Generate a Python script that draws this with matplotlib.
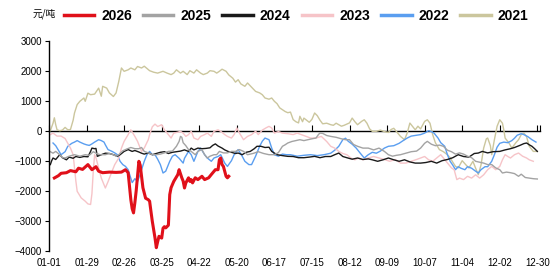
import matplotlib
matplotlib.use("Agg")
import matplotlib.pyplot as plt

# x = day of year (leap-year calendar, 01-01 = 0)
days_2026 = [4, 7, 9, 13, 16, 20, 22, 25, 29, 32, 35, 37, 40, 45, 50, 54, 57, 59, 61, 62,
             63, 64, 65, 67, 68, 70, 72, 74, 75, 76, 77, 79, 80, 81, 82, 84, 85, 86, 87, 89,
             90, 91, 93, 96, 97, 99, 100, 101, 102, 104, 105, 106, 107, 109, 111, 114, 116, 119, 121, 124,
             126, 127, 128, 129, 130, 132, 133, 134]
vals_2026 = [-1576, -1500, -1420, -1400, -1330, -1370, -1250, -1290, -1130, -1300,
             -1200, -1350, -1400, -1380, -1390, -1380, -1300, -1400, -2300, -2600,
             -2740, -2400, -2000, -1020, -1150, -1900, -2250, -2300, -2350, -2690,
             -3020, -3570, -3900, -3700, -3520, -3580, -3250, -3200, -3240, -3150,
             -2130, -1900, -1690, -1465, -1300, -1570, -1680, -1910, -1740, -1570,
             -1690, -1630, -1740, -1570, -1630, -1520, -1630, -1570, -1460, -1300,
             -1300, -966, -910, -1130, -1190, -1520, -1570, -1520]

days_2025 = [1, 3, 5, 8, 10, 12, 15, 19, 23, 27, 30, 33, 35, 38, 42, 45, 48, 50, 52, 55,
             58, 61, 64, 67, 69, 71, 74, 77, 80, 83, 86, 89, 92, 95, 97, 98, 99, 100, 102, 104,
             106, 109, 111, 114, 116, 118, 120, 123, 125, 127, 130, 133, 136, 139, 142, 145, 148, 152, 156, 160,
             164, 168, 171, 174, 176, 178, 181, 184, 187, 190, 193, 196, 199, 201, 202, 204, 207, 210, 214, 218,
             221, 224, 227, 230, 234, 238, 242, 246, 250, 253, 256, 259, 262, 266, 270, 274, 277, 280, 282, 285,
             288, 291, 294, 297, 300, 303, 306, 309, 312, 315, 318, 321, 324, 327, 330, 333, 336, 338, 341, 344,
             347, 350, 352, 355, 358, 361, 364]
vals_2025 = [-700, -750, -690, -800, -900, -910, -850, -800, -850, -800, -820, -700, -750, -800, -800, -760, -800, -850, -800, -670,
             -610, -560, -600, -600, -560, -690, -740, -800, -800, -780, -740, -690, -680, -520, -355, -190, -220, -400, -500, -630,
             -690, -800, -690, -630, -800, -910, -850, -800, -800, -690, -740, -740, -690, -690, -630, -690, -800, -760, -700, -760,
             -800, -800, -730, -520, -470, -410, -360, -330, -300, -330, -300, -270, -245, -120, -80, -90, -160, -190, -220, -270,
             -300, -300, -460, -520, -580, -580, -640, -580, -690, -800, -850, -820, -800, -750, -700, -680, -580, -420, -355, -450,
             -500, -480, -520, -650, -700, -780, -740, -780, -850, -900, -1020, -1050, -1080, -1130, -1130, -1240, -1300, -1410, -1380, -1400,
             -1430, -1520, -1450, -1560, -1580, -1600, -1610]

days_2024 = [1, 2, 3, 5, 8, 10, 13, 15, 18, 20, 23, 26, 29, 31, 32, 34, 35, 36, 39, 42,
             45, 48, 51, 53, 56, 59, 62, 64, 67, 69, 71, 74, 77, 80, 83, 86, 89, 92, 95, 98,
             101, 104, 106, 108, 111, 114, 117, 120, 122, 124, 126, 129, 131, 134, 136, 139, 141, 144, 147, 150,
             153, 155, 158, 161, 164, 166, 170, 174, 178, 182, 186, 190, 194, 198, 202, 206, 210, 213, 216, 219,
             222, 226, 230, 234, 238, 241, 245, 249, 253, 257, 261, 265, 269, 273, 277, 281, 285, 289, 293, 297,
             301, 305, 309, 313, 317, 320, 323, 327, 331, 336, 340, 344, 347, 351, 354, 356, 358, 360, 362, 364]
vals_2024 = [-1130, -1000, -910, -960, -800, -900, -970, -880, -920, -860, -890, -860, -870, -690, -580, -600, -590, -855, -800, -750,
             -760, -800, -850, -800, -690, -630, -690, -660, -710, -750, -780, -740, -800, -760, -720, -700, -760, -720, -700, -680,
             -640, -690, -580, -640, -580, -600, -590, -570, -490, -440, -510, -580, -640, -700, -720, -760, -745, -800, -720, -690,
             -600, -520, -520, -560, -550, -690, -800, -830, -855, -860, -900, -900, -880, -855, -900, -860, -860, -800, -745, -860,
             -900, -950, -910, -960, -940, -970, -1020, -970, -910, -970, -1020, -970, -1040, -1080, -1080, -1060, -1020, -1080, -1000, -960,
             -900, -800, -860, -880, -760, -745, -690, -740, -700, -690, -640, -600, -560, -490, -430, -410, -470, -520, -600, -690]

days_2023 = [1, 3, 6, 9, 12, 14, 16, 18, 19, 20, 21, 24, 27, 29, 31, 32, 33, 34, 35, 37,
             39, 42, 44, 47, 49, 52, 54, 56, 59, 61, 64, 66, 69, 71, 74, 75, 77, 79, 81, 84,
             86, 89, 91, 93, 96, 98, 100, 102, 104, 106, 108, 111, 113, 116, 118, 121, 123, 126, 128, 131,
             133, 136, 138, 140, 142, 145, 148, 151, 154, 156, 159, 162, 164, 166, 168, 171, 174, 178, 182, 185,
             188, 191, 195, 199, 203, 207, 210, 213, 216, 219, 222, 225, 228, 231, 234, 238, 242, 246, 250, 254,
             258, 262, 266, 270, 274, 277, 280, 283, 286, 289, 292, 294, 296, 298, 300, 302, 304, 306, 309, 312,
             315, 318, 321, 324, 327, 330, 333, 336, 338, 340, 342, 344, 347, 350, 353, 356, 358, 361]
vals_2023 = [-130, -80, -180, -180, -260, -420, -580, -800, -1240, -1670, -2020, -2240, -2350, -2440, -2460, -2100, -1350, -800, -900, -1240,
             -1580, -1910, -1700, -1350, -1130, -910, -580, -355, -130, 30, -190, -355, -690, -580, -300, -130, 130, 220, 140, 200,
             30, -130, -245, -80, -50, -20, -80, -190, -130, -20, -245, -300, -190, -130, -80, -190, -20, 30, -20, -130,
             -190, -245, -130, 90, -80, -300, -190, -130, -20, -130, 20, 100, 145, 90, -80, -30, -80, -100, -130, -80,
             -130, -180, -245, -245, -190, -360, -520, -580, -690, -760, -800, -910, -970, -910, -970, -910, -860, -910, -960, -1020,
             -960, -1080, -1080, -1020, -960, -910, -860, -970, -1020, -910, -800, -910, -1020, -1130, -1240, -1300, -1630, -1580, -1630, -1520,
             -1580, -1470, -1580, -1470, -1300, -1190, -1300, -1190, -970, -800, -860, -910, -800, -745, -850, -910, -970, -1020]

days_2022 = [3, 5, 7, 9, 12, 14, 17, 19, 21, 23, 26, 28, 30, 32, 34, 37, 39, 41, 42, 44,
             47, 49, 51, 53, 55, 57, 59, 61, 62, 64, 66, 68, 69, 71, 73, 75, 77, 79, 81, 83,
             85, 87, 90, 92, 94, 97, 100, 101, 104, 106, 108, 111, 113, 116, 118, 121, 123, 126, 128, 131,
             133, 136, 138, 141, 144, 146, 149, 151, 154, 157, 159, 161, 164, 166, 168, 171, 174, 177, 180, 185,
             190, 195, 200, 205, 210, 213, 216, 219, 221, 223, 226, 229, 232, 235, 238, 241, 244, 247, 250, 253,
             257, 261, 264, 267, 270, 274, 277, 280, 283, 285, 287, 290, 292, 295, 297, 299, 301, 303, 305, 307,
             310, 312, 315, 318, 320, 322, 325, 327, 330, 332, 334, 336, 339, 342, 345, 347, 349, 352, 354, 357,
             360, 363]
vals_2022 = [-410, -500, -650, -800, -700, -520, -420, -380, -330, -380, -440, -470, -490, -440, -380, -300, -330, -380, -470, -630,
             -690, -740, -800, -1020, -1130, -1190, -1300, -1580, -1730, -1600, -1690, -1450, -1300, -1020, -800, -690, -800, -800, -950, -1130,
             -1410, -1350, -1020, -850, -800, -920, -1080, -920, -690, -800, -1020, -690, -580, -800, -910, -1020, -910, -860, -800, -1080,
             -1190, -1000, -800, -630, -850, -1020, -1130, -1130, -850, -520, -350, -245, -300, -580, -800, -850, -780, -800, -800, -850,
             -820, -800, -830, -800, -750, -650, -520, -300, -250, -350, -450, -580, -750, -910, -800, -720, -750, -680, -580, -520,
             -500, -420, -330, -245, -180, -150, -130, -80, 0, -30, -80, -245, -400, -520, -800, -1020, -1150, -1300, -1200, -1250,
             -1300, -1200, -1250, -1350, -1410, -1300, -1200, -1200, -1020, -800, -550, -420, -380, -400, -330, -250, -150, -100, -130, -200,
             -300, -380]

days_2021 = [1, 3, 4, 5, 6, 8, 10, 12, 14, 16, 18, 19, 21, 23, 26, 27, 29, 31, 34, 37,
             39, 40, 43, 45, 48, 50, 52, 54, 56, 59, 61, 64, 66, 69, 71, 75, 78, 81, 85, 88,
             91, 93, 95, 98, 100, 103, 105, 108, 110, 113, 115, 118, 120, 123, 125, 127, 129, 132, 134, 137,
             139, 141, 143, 146, 148, 151, 154, 157, 159, 161, 164, 166, 168, 170, 172, 174, 176, 178, 180, 182,
             184, 186, 187, 189, 190, 192, 194, 196, 198, 200, 202, 204, 207, 210, 212, 214, 216, 218, 220, 222,
             224, 226, 228, 230, 233, 235, 237, 239, 241, 244, 247, 250, 253, 255, 257, 260, 262, 265, 267, 269,
             271, 273, 275, 277, 280, 282, 284, 286, 288, 291, 294, 297, 299, 301, 303, 305, 308, 311, 313, 316,
             318, 320, 322, 324, 326, 327, 329, 330, 332, 334, 336, 338, 339, 340, 343, 345, 348, 350, 352, 354,
             356, 358, 361, 364]
vals_2021 = [0, 250, 430, 200, 30, 0, 20, 110, 30, 40, 350, 590, 870, 980, 1090, 980, 1250, 1200, 1220, 1420,
             1150, 1480, 1420, 1260, 1140, 1260, 1640, 2090, 1980, 2030, 2090, 2030, 2140, 2090, 2150, 2000, 1950, 1920, 1980, 1920,
             1870, 1920, 2030, 1920, 1980, 1870, 2000, 1920, 2030, 1920, 1870, 1920, 2000, 1980, 1920, 1980, 2050, 1980, 1860, 1750,
             1620, 1700, 1560, 1480, 1590, 1450, 1310, 1260, 1200, 1090, 1050, 1090, 980, 900, 760, 700, 640, 600, 620, 370,
             300, 260, 480, 300, 420, 350, 280, 380, 590, 500, 350, 230, 250, 200, 180, 250, 200, 150, 180, 220,
             260, 420, 300, 200, 310, 365, 250, 60, -20, -20, 20, -30, -60, 40, 80, -80, -190, -300, -80, 255,
             140, 30, 150, 60, 310, 365, 250, -130, -400, -630, -700, -800, -900, -1050, -1190, -1240, -1000, -1150, -1240, -1020,
             -1250, -1465, -1150, -580, -270, -245, -500, -800, -300, 145, 365, 250, 30, -245, -420, -580, -400, -300, -130, -80,
             -200, -520, -690, -690]

series = [
    ("2026", days_2026, vals_2026, "#e0101a", 2.2),
    ("2025", days_2025, vals_2025, "#a3a3a3", 1.0),
    ("2024", days_2024, vals_2024, "#1a1a1a", 1.0),
    ("2023", days_2023, vals_2023, "#f6c4c8", 1.0),
    ("2022", days_2022, vals_2022, "#5a9ef0", 1.0),
    ("2021", days_2021, vals_2021, "#cbc69d", 1.0),
]

tick_days = [0, 28, 56, 84, 112, 140, 168, 196, 224, 252, 280, 308, 336, 364]
tick_labels = ["01-01", "01-29", "02-26", "03-25", "04-22", "05-20", "06-17",
               "07-15", "08-12", "09-09", "10-07", "11-04", "12-02", "12-30"]
y_ticks = [-4000, -3000, -2000, -1000, 0, 1000, 2000, 3000]

plt.rcParams["font.family"] = ["Liberation Sans", "DejaVu Sans"]

fig = plt.figure(figsize=(5.5, 2.72), dpi=100)
ax = fig.add_axes([49 / 550, 1 - 250.7 / 272, 491 / 550, 210 / 272])

# draw back-to-front so the 2026 line sits on top
for name, d, v, c, lw in reversed(series):
    ax.plot(d, v, color=c, lw=lw, label=name, zorder=3 if name == "2026" else 2)

ax.set_xlim(0, 366)
ax.set_ylim(-4000, 3000)
ax.set_yticks(y_ticks)
ax.tick_params(axis="y", direction="out", length=3, width=0.8, labelsize=7, pad=2)

for s in ["top", "right"]:
    ax.spines[s].set_visible(False)
ax.spines["left"].set_linewidth(1.0)
ax.spines["bottom"].set_position(("data", 0))
ax.spines["bottom"].set_linewidth(1.0)
ax.spines["bottom"].set_zorder(1)
ax.set_xticks(tick_days + [366])
ax.tick_params(axis="x", direction="in", length=4, width=0.8, labelbottom=False)

sec = ax.secondary_xaxis("bottom")
sec.set_xticks(tick_days, tick_labels)
sec.spines["bottom"].set_visible(False)
sec.tick_params(length=0, pad=5, labelsize=7)

handles, labels = ax.get_legend_handles_labels()
handles, labels = handles[::-1], labels[::-1]
leg = fig.legend(handles, labels, loc="upper left", bbox_to_anchor=(58 / 550, 1 - 3 / 272),
                 ncol=6, frameon=False, handlelength=2.2, handletextpad=0.5,
                 columnspacing=0.8, prop={"size": 10, "weight": "bold"}, borderaxespad=0)
for ln in leg.get_lines():
    ln.set_linewidth(2.5)

fig.text(33 / 550, 1 - 14 / 272, "元/吨", fontsize=7, va="center", ha="left",
         family=["Noto Sans CJK SC", "DejaVu Sans"])

fig.savefig("out.png", dpi=100)
